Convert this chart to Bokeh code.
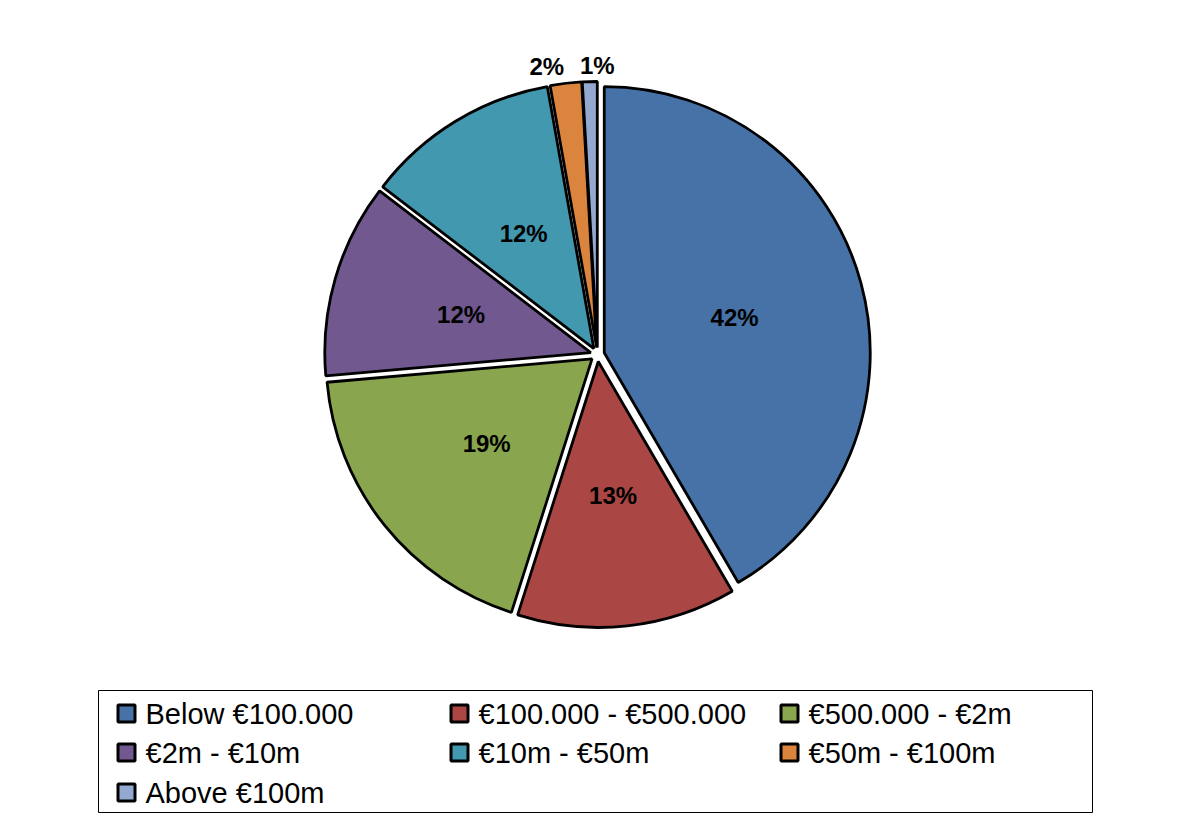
import math
from bokeh.plotting import figure
from bokeh.models import Range1d, ColumnDataSource
from bokeh.core.properties import value
from bokeh.embed import file_html
from bokeh.resources import INLINE

categories = ["Below €100.000", "€100.000 - €500.000", "€500.000 - €2m",
              "€2m - €10m", "€10m - €50m", "€50m - €100m", "Above €100m"]
shares = [41.6, 13.3, 18.7, 11.8, 11.8, 1.9, 0.9]
labels = ["42%", "13%", "19%", "12%", "12%", "2%", "1%"]
colors = ["#4672A8", "#AA4643", "#89A54E", "#71588F", "#4198AF", "#DB843D", "#93A9CF"]

W, H = 1165, 814
FONT = "Liberation Sans"

p = figure(width=W, height=H, output_backend="svg", toolbar_location=None,
           x_range=Range1d(0, W), y_range=Range1d(0, H), min_border=0)
p.axis.visible = False
p.grid.visible = False
p.outline_line_color = None
p.background_fill_color = "white"


def px(x, y):
    # screenshot pixel -> data coords
    return x, H - y


cx, cy = px(597, 354)
R = 266
EXPLODE = 7
total = sum(shares)

xs, ys, starts, ends, lx, ly = [], [], [], [], [], []
cum = 0.0
nudges = {5: (-17, 0), 6: (8, -1)}
for i, s in enumerate(shares):
    a0 = cum / total * 2 * math.pi
    cum += s
    a1 = cum / total * 2 * math.pi
    mid = (a0 + a1) / 2
    dx, dy = math.sin(mid), math.cos(mid)
    xs.append(cx + EXPLODE * dx)
    ys.append(cy + EXPLODE * dy)
    starts.append(math.pi / 2 - a0)
    ends.append(math.pi / 2 - a1)
    if s >= 5:
        lx.append(cx + 142 * dx)
        ly.append(cy + 142 * dy)
    else:
        nx, ny = nudges.get(i, (0, 0))
        lx.append(cx + 290 * dx + nx)
        ly.append(cy + 290 * dy + ny)

src = ColumnDataSource(dict(x=xs, y=ys, start=starts, end=ends, color=colors,
                            lx=lx, ly=ly, label=labels))
p.wedge(x="x", y="y", radius=R, start_angle="start", end_angle="end",
        direction="clock", fill_color="color", line_color="black",
        line_width=2.8, source=src)
p.text(x="lx", y="ly", text="label", source=src, text_align="center",
       text_baseline="middle", text_font=value(FONT), text_font_style="bold",
       text_font_size="24px", text_color="black")

# legend frame
bx0, by0 = px(98, 690)
bx1, by1 = px(1092, 812)
p.quad(left=bx0, right=bx1, top=by0, bottom=by1, fill_color="white",
       line_color="black", line_width=1)

col_x = [117, 450, 780]
row_y = [713, 752, 792]
sq_x, sq_y, tx, ty = [], [], [], []
for i, c in enumerate(categories):
    r, k = divmod(i, 3)
    x0, y0 = px(col_x[k] + 9, row_y[r])
    sq_x.append(x0)
    sq_y.append(y0)
    tx.append(x0 + 19)
    ty.append(y0)
lsrc = ColumnDataSource(dict(x=sq_x, y=sq_y, tx=tx, ty=ty, color=colors, name=categories))
p.rect(x="x", y="y", width=17, height=17, fill_color="color", line_color="black",
       line_width=3, source=lsrc)
p.text(x="tx", y="ty", text="name", source=lsrc, text_align="left",
       text_baseline="middle", text_font=value(FONT), text_font_size="29px",
       text_color="black")

open("out.html", "w").write(file_html(p, INLINE))
